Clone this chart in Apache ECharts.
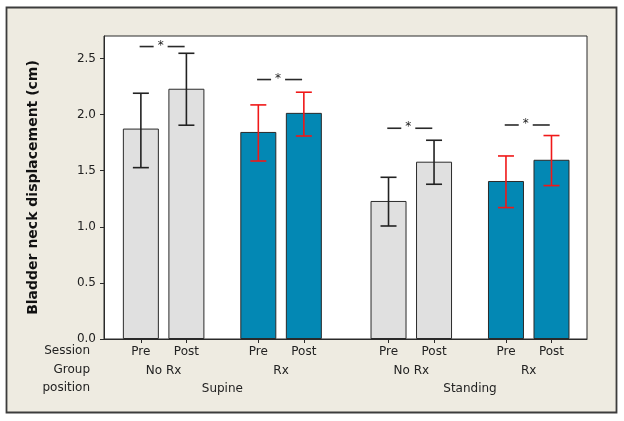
<!DOCTYPE html>
<html>
<head>
<meta charset="utf-8">
<script src="https://cdn.jsdelivr.net/npm/echarts@6/dist/echarts.min.js"></script>
<style>
html,body{margin:0;padding:0;background:#fff;}
#chart{width:624px;height:421px;}
</style>
</head>
<body>
<div id="chart"></div>
<script>
// ---- data ----
const sessions = ['Pre','Post','Pre','Post','Pre','Post','Pre','Post'];
const groups = ['No Rx','Rx','No Rx','Rx'];
const positionsLabels = ['Supine','Standing'];
const xPos = [1, 2, 3.58, 4.58, 6.44, 7.44, 9.02, 10.02];
const isRx = [0,0,1,1,0,0,1,1];
const means = [1.875, 2.230, 1.845, 2.015, 1.230, 1.580, 1.408, 1.597];
const errLow = [1.527, 1.905, 1.586, 1.809, 1.007, 1.379, 1.171, 1.367];
const errHigh = [2.190, 2.546, 2.086, 2.199, 1.441, 1.771, 1.631, 1.813];
const sigY = [2.606, 2.312, 1.878, 1.907];
const yTicks = [0, 0.5, 1.0, 1.5, 2.0, 2.5];

const barFill = ['#E0E0E0', '#0388B4'];
const errColor = ['#222222', '#F01818'];

const groupMid = [0,1,2,3].map(g => (xPos[2*g] + xPos[2*g+1]) / 2);
const posMid = [0,1].map(p => (xPos[4*p] + xPos[4*p+3]) / 2);

function lookup(vals, labels) {
  return function (v) {
    for (let i = 0; i < vals.length; i++) if (Math.abs(vals[i] - v) < 1e-6) return labels[i];
    return '';
  };
}

const FONT = 'DejaVu Sans';
const chart = echarts.init(document.getElementById('chart'), null, {renderer: 'canvas'});

const baseX = {type: 'value', min: 0.19, max: 10.8, gridIndex: 0, splitLine: {show: false}, position: 'bottom'};

const option = {
  backgroundColor: '#ffffff',
  animation: false,
  graphic: {elements: [
    {type: 'rect', z: -10, shape: {x: 6.5, y: 7.5, width: 610, height: 405},
     style: {fill: '#EEEBE1', stroke: '#3C3C3C', lineWidth: 1.8}, silent: true},
    {type: 'text', z: 10, right: 534, top: 345, style: {text: 'Session', font: '12px "DejaVu Sans"', fill: '#222', align: 'right'}},
    {type: 'text', z: 10, right: 534, top: 364, style: {text: 'Group', font: '12px "DejaVu Sans"', fill: '#222', align: 'right'}},
    {type: 'text', z: 10, right: 534, top: 382, style: {text: 'position', font: '12px "DejaVu Sans"', fill: '#222', align: 'right'}}
  ]},
  grid: {left: 104, right: 37, top: 36, bottom: 82, show: true, backgroundColor: '#ffffff', borderColor: '#2a2a2a', borderWidth: 1},
  xAxis: [
    Object.assign({}, baseX, {
      axisLine: {show: true, onZero: false, lineStyle: {color: '#2a2a2a', width: 1}},
      axisTick: {show: true, length: 4, customValues: xPos, lineStyle: {color: '#2a2a2a'}},
      axisLabel: {show: true, margin: 7, customValues: xPos, formatter: lookup(xPos, sessions), fontFamily: FONT, fontSize: 12, color: '#222'}
    }),
    Object.assign({}, baseX, {
      offset: 19,
      axisLine: {show: false}, axisTick: {show: false},
      axisLabel: {show: true, margin: 7, customValues: groupMid, formatter: lookup(groupMid, groups), fontFamily: FONT, fontSize: 12, color: '#222'}
    }),
    Object.assign({}, baseX, {
      offset: 37,
      axisLine: {show: false}, axisTick: {show: false},
      axisLabel: {show: true, margin: 7, customValues: posMid, formatter: lookup(posMid, positionsLabels), fontFamily: FONT, fontSize: 12, color: '#222'}
    })
  ],
  yAxis: {
    type: 'value', min: 0, max: 2.7,
    name: 'Bladder neck displacement (cm)', nameLocation: 'middle', nameGap: 64,
    nameTextStyle: {fontFamily: FONT, fontSize: 14, fontWeight: 'bold', color: '#111'},
    axisLine: {show: true, lineStyle: {color: '#2a2a2a'}},
    axisTick: {show: true, length: 4, customValues: yTicks, lineStyle: {color: '#2a2a2a'}},
    axisLabel: {margin: 8, customValues: yTicks, formatter: v => v.toFixed(1), fontFamily: FONT, fontSize: 12, color: '#222'},
    splitLine: {show: false}
  },
  series: [
    {
      type: 'bar', xAxisIndex: 0, barWidth: 36,
      data: xPos.map((x, i) => ({value: [x, means[i]], itemStyle: {color: barFill[isRx[i]], borderColor: '#2a2a2a', borderWidth: 1}})),
      z: 2
    },
    {
      type: 'custom', xAxisIndex: 0, z: 5,
      data: xPos.map((x, i) => [x, errLow[i], errHigh[i], isRx[i]]),
      renderItem: function (params, api) {
        const x = api.value(0);
        const lo = api.coord([x, api.value(1)]);
        const hi = api.coord([x, api.value(2)]);
        const c = errColor[api.value(3)];
        const hw = 8;
        const st = {stroke: c, lineWidth: 1.6};
        return {type: 'group', children: [
          {type: 'line', shape: {x1: hi[0], y1: hi[1], x2: lo[0], y2: lo[1]}, style: st},
          {type: 'line', shape: {x1: hi[0]-hw, y1: hi[1], x2: hi[0]+hw, y2: hi[1]}, style: st},
          {type: 'line', shape: {x1: lo[0]-hw, y1: lo[1], x2: lo[0]+hw, y2: lo[1]}, style: st}
        ]};
      }
    },
    {
      type: 'custom', xAxisIndex: 0, z: 5,
      data: groupMid.map((m, g) => [m, sigY[g]]),
      renderItem: function (params, api) {
        const p = api.coord([api.value(0), api.value(1)]);
        const st = {stroke: '#2a2a2a', lineWidth: 1.6};
        return {type: 'group', children: [
          {type: 'line', shape: {x1: p[0]-24, y1: p[1], x2: p[0]-10, y2: p[1]}, style: st},
          {type: 'line', shape: {x1: p[0]+4, y1: p[1], x2: p[0]+21, y2: p[1]}, style: st},
          {type: 'text', x: p[0]-3, y: p[1]-1, style: {text: '*', font: '12px "DejaVu Sans"', fill: '#222', align: 'center', verticalAlign: 'middle'}}
        ]};
      }
    }
  ]
};
chart.setOption(option);
</script>
</body>
</html>
